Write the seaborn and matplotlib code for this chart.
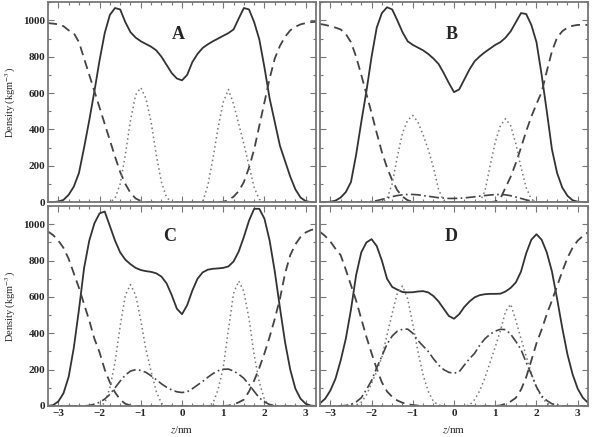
import numpy as np
import matplotlib
matplotlib.use("Agg")
import matplotlib.pyplot as plt
from matplotlib.ticker import MultipleLocator
import seaborn as sns

# z grid (nm), step 0.125
z = np.arange(-3.25, 3.2501, 0.125)

# panel A
a_total = [0, 0, 3, 12, 40, 85, 160, 300, 450, 610, 780, 930, 1030, 1068, 1060, 990, 935, 905, 885, 870, 855, 835, 800, 755, 710, 680, 670,
           700, 770, 815, 848, 868, 885, 900, 915, 930, 950, 1010, 1068, 1060, 990, 895, 740, 570, 440, 310, 225, 140, 70, 25, 5, 0, 0]
a_water = [985, 982, 978, 968, 945, 930, 880, 790, 700, 610, 520, 430, 340, 250, 165, 100, 50, 20, 6, 0, 0, 0, 0, 0, 0, 0, 0,
           0, 0, 0, 0, 0, 0, 0, 2, 10, 30, 60, 110, 190, 290, 420, 550, 680, 790, 860, 910, 945, 965, 978, 985, 990, 992]
a_head = [0, 0, 0, 0, 0, 0, 0, 0, 0, 0, 0, 0, 0, 20, 100, 260, 450, 590, 630, 570, 440, 260, 110, 25, 0, 0, 0,
          0, 0, 0, 2, 90, 240, 410, 550, 620, 540, 430, 320, 200, 80, 15, 0, 0, 0, 0, 0, 0, 0, 0, 0, 0, 0]

# panel B
b_total = [0, 0, 2, 8, 25, 55, 110, 260, 440, 610, 800, 960, 1040, 1072, 1060, 1000, 935, 885, 865, 850, 835, 815, 790, 760, 710, 655, 605,
           620, 675, 730, 775, 802, 825, 845, 865, 880, 905, 940, 990, 1040, 1035, 975, 880, 700, 500, 290, 160, 80, 35, 10, 2, 0, 0]
b_water = [980, 975, 968, 960, 950, 925, 880, 800, 700, 595, 490, 380, 275, 190, 120, 65, 30, 10, 2, 0, 0, 0, 0, 0, 0, 0, 0,
           0, 0, 0, 0, 0, 0, 0, 3, 20, 80, 140, 215, 300, 390, 470, 540, 605, 720, 830, 905, 940, 960, 970, 975, 975, 975]
b_head = [0, 0, 0, 0, 0, 0, 0, 0, 0, 0, 0, 0, 0, 20, 100, 250, 380, 450, 477, 440, 370, 290, 190, 70, 5, 0, 0,
          0, 0, 0, 0, 0, 60, 200, 330, 420, 459, 420, 320, 190, 80, 15, 0, 0, 0, 0, 0, 0, 0, 0, 0, 0, 0]
b_ion = [0, 0, 0, 0, 0, 0, 0, 0, 0, 0, 3, 8, 15, 22, 30, 36, 40, 42, 42, 40, 36, 32, 28, 24, 22, 20, 20,
         21, 23, 26, 29, 33, 36, 39, 41, 42, 40, 35, 28, 20, 12, 6, 2, 0, 0, 0, 0, 0, 0, 0, 0, 0, 0]

# panel C
c_total = [0, 5, 25, 70, 160, 320, 530, 760, 910, 1005, 1060, 1070, 990, 910, 845, 805, 780, 760, 748, 742, 738, 730, 712, 675, 610, 535, 505,
           555, 635, 700, 735, 750, 755, 757, 760, 768, 795, 850, 930, 1020, 1085, 1085, 1030, 910, 740, 540, 350, 200, 95, 40, 12, 2, 0]
c_water = [960, 940, 910, 870, 810, 730, 650, 560, 470, 370, 295, 200, 130, 75, 35, 12, 3, 0, 0, 0, 0, 0, 0, 0, 0, 0, 0,
           0, 0, 0, 0, 0, 0, 0, 0, 2, 8, 20, 35, 80, 140, 210, 290, 380, 480, 590, 730, 830, 890, 930, 955, 968, 975]
c_head = [0, 0, 0, 0, 0, 0, 0, 0, 0, 0, 0, 15, 100, 240, 440, 610, 668, 610, 470, 310, 190, 80, 15, 0, 0, 0, 0,
          0, 0, 0, 0, 0, 15, 90, 213, 420, 620, 688, 630, 480, 280, 130, 35, 0, 0, 0, 0, 0, 0, 0, 0, 0, 0]
c_ion = [0, 0, 0, 0, 0, 0, 0, 0, 3, 10, 20, 38, 64, 100, 137, 170, 192, 200, 196, 185, 166, 145, 122, 103, 88, 78, 74,
         78, 95, 115, 135, 158, 178, 194, 202, 203, 192, 175, 152, 118, 80, 45, 22, 8, 2, 0, 0, 0, 0, 0, 0, 0, 0]

# panel D
d_total = [15, 40, 85, 150, 250, 370, 530, 720, 845, 900, 918, 880, 800, 700, 655, 640, 627, 625, 626, 630, 632, 625, 605, 575, 535, 495, 480,
           505, 545, 575, 598, 610, 615, 617, 617, 618, 630, 650, 680, 740, 840, 915, 945, 915, 845, 740, 590, 430, 285, 175, 95, 45, 18]
d_water = [958, 935, 905, 865, 830, 750, 665, 580, 480, 380, 290, 205, 130, 80, 50, 30, 18, 10, 5, 2, 0, 0, 0, 0, 0, 0, 0,
           0, 0, 0, 0, 0, 0, 0, 0, 3, 12, 25, 45, 90, 158, 250, 345, 420, 505, 580, 660, 740, 815, 870, 910, 935, 956]
d_head = [0, 0, 0, 0, 0, 0, 0, 5, 20, 60, 125, 190, 270, 390, 510, 620, 660, 590, 450, 300, 170, 80, 25, 5, 0, 0, 0,
          0, 0, 5, 35, 85, 155, 240, 325, 415, 520, 560, 470, 370, 275, 180, 100, 50, 15, 3, 0, 0, 0, 0, 0, 0, 0]
d_ion = [0, 0, 0, 0, 0, 3, 8, 22, 45, 90, 140, 210, 275, 340, 385, 412, 422, 423, 400, 360, 330, 300, 260, 225, 200, 185, 180,
         188, 225, 260, 290, 335, 370, 395, 412, 422, 420, 395, 355, 310, 240, 175, 105, 55, 30, 12, 5, 0, 0, 0, 0, 0, 0]

panel_labels = ["A", "B", "C", "D"]
panels = [
    [a_total, a_water, a_head, None],
    [b_total, b_water, b_head, b_ion],
    [c_total, c_water, c_head, c_ion],
    [d_total, d_water, d_head, d_ion],
]
label_pos = [(0.485, 0.84), (0.49, 0.84), (0.455, 0.85), (0.49, 0.85)]

sns.set_theme(style="white")
plt.rcParams['font.family'] = ['Liberation Serif', 'DejaVu Serif']
plt.rcParams['mathtext.fontset'] = 'stix'

line_styles = [
    dict(color='#333333', linestyle='-', lw=1.3),
    dict(color='#444444', linestyle=(0, (5, 3)), lw=1.3),
    dict(color='#777777', linestyle=(0, (1, 2)), lw=1.1),
    dict(color='#444444', linestyle=(0, (6, 2, 1, 2)), lw=1.2),
]

fig, axes = plt.subplots(2, 2, figsize=(5.93, 4.37), dpi=100)
fig.subplots_adjust(left=0.081, right=0.9916, top=0.995, bottom=0.071, wspace=0.015, hspace=0.02)

for i, ax in enumerate(axes.flat):
    for curve, st in zip(panels[i], line_styles):
        if curve is None:
            continue
        sns.lineplot(x=z, y=curve, ax=ax, errorbar=None, sort=False, **st)
    ax.set_xlim(-3.25, 3.25)
    ax.set_ylim(0, 1100)
    ax.xaxis.set_major_locator(MultipleLocator(1))
    ax.xaxis.set_minor_locator(MultipleLocator(0.25))
    ax.yaxis.set_major_locator(MultipleLocator(200))
    ax.yaxis.set_minor_locator(MultipleLocator(100))
    ax.tick_params(which='both', direction='in', top=True, right=True, bottom=True, left=True,
                   color='#777777', width=0.8)
    ax.tick_params(which='major', length=4, labelsize=8, pad=2)
    ax.tick_params(which='minor', length=2.5)
    for sp in ax.spines.values():
        sp.set_color('#777777')
        sp.set_linewidth(1.3)
    for lab in ax.get_xticklabels() + ax.get_yticklabels():
        lab.set_fontweight('bold')
    if i % 2 == 1:
        ax.set_yticklabels([])
    else:
        ax.set_ylabel('Density (kgm$^{-3}$)', fontsize=7.5)
        ax.yaxis.set_label_coords(-0.112, 0.5)
    if i < 2:
        ax.set_xticklabels([])
    else:
        ax.set_xlabel('$z$/nm', fontsize=8)
        ax.xaxis.set_label_coords(0.5, -0.095)
    lx, ly = label_pos[i]
    ax.text(lx, ly, panel_labels[i], transform=ax.transAxes, ha='center', va='center',
            fontsize=13, fontweight='bold')

fig.savefig('out.png', dpi=100)
